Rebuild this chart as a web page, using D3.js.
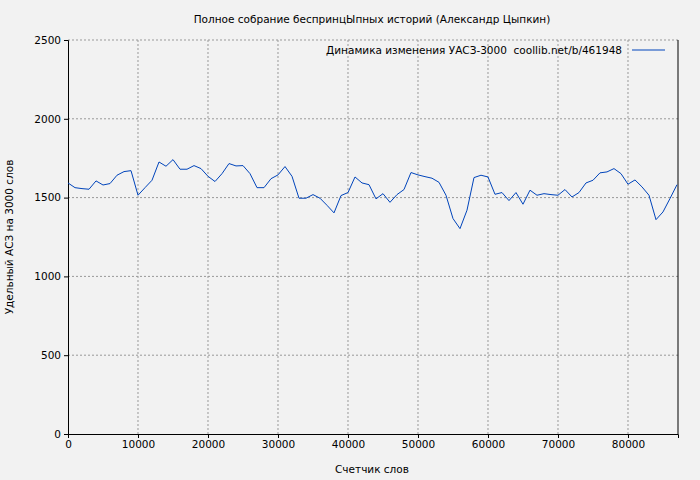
<!DOCTYPE html>
<html><head><meta charset="utf-8">
<script src="https://cdn.jsdelivr.net/npm/d3@7"></script>
<style>
body{margin:0;background:#f2f2f2;}
text{font-family:"DejaVu Sans",sans-serif;font-size:11px;fill:#000;}
</style></head>
<body><svg width="700" height="480"></svg>
<script>
var svg = d3.select('svg');

var title = 'Полное собрание беспринцЫпных историй (Александр Цыпкин)';
var legendLabel = 'Динамика изменения УАСЗ-3000  coollib.net/b/461948';
var xLabel = 'Счетчик слов';
var yLabel = 'Удельный АСЗ на 3000 слов';

var words = d3.range(0, 88000, 1000);
var values = [1593,1563,1557,1553,1606,1580,1589,1642,1665,1671,
  1515,1563,1610,1726,1699,1741,1680,1680,1703,1684,
  1635,1602,1652,1716,1701,1703,1652,1563,1563,1620,
  1644,1697,1635,1496,1496,1519,1496,1451,1403,1513,
  1532,1631,1593,1582,1492,1525,1470,1519,1551,1659,
  1644,1633,1623,1597,1515,1367,1303,1420,1627,1642,
  1631,1521,1532,1481,1532,1458,1547,1515,1525,1519,
  1515,1551,1504,1532,1593,1610,1657,1663,1684,1652,
  1585,1612,1568,1515,1360,1409,1494,1582];
var xTicks = [0,10000,20000,30000,40000,50000,60000,70000,80000];
var yTicks = [0,500,1000,1500,2000,2500];

var x = d3.scaleLinear().domain([0, 87143]).range([68, 678]);
var y = d3.scaleLinear().domain([0, 2500]).range([434, 40]);

// grid
svg.append('g').selectAll('line').data(xTicks.slice(1)).enter().append('line')
  .attr('x1', d => x(d)).attr('x2', d => x(d)).attr('y1', 40).attr('y2', 434)
  .attr('stroke', '#999').attr('stroke-dasharray', '2,2');
svg.append('g').selectAll('line').data(yTicks.slice(1)).enter().append('line')
  .attr('y1', d => y(d)).attr('y2', d => y(d)).attr('x1', 68).attr('x2', 678)
  .attr('stroke', '#999').attr('stroke-dasharray', '2,2');

// axes
svg.append('g').attr('transform', 'translate(0,434)')
  .call(d3.axisBottom(x).tickValues(xTicks).tickFormat(d3.format('d')).tickSizeOuter(0).tickSize(4))
  .call(g => g.select('.domain').attr('stroke', '#000'))
  .selectAll('text').style('font-size', '10.5px').style('font-family', 'DejaVu Sans');
svg.append('g').attr('transform', 'translate(68,0)')
  .call(d3.axisLeft(y).tickValues(yTicks).tickFormat(d3.format('d')).tickSizeOuter(0).tickSize(4))
  .call(g => g.select('.domain').attr('stroke', '#000'))
  .selectAll('text').style('font-size', '10.5px').style('font-family', 'DejaVu Sans');
svg.append('line').attr('x1', 678).attr('x2', 678).attr('y1', 40).attr('y2', 434).attr('stroke', '#000');

// line
var line = d3.line().x((d, i) => x(words[i])).y(d => y(d));
svg.append('path').datum(values).attr('d', line)
  .attr('fill', 'none').attr('stroke', '#0044bb').attr('stroke-width', 1);

// texts
svg.append('text').attr('x', 372).attr('y', 23).attr('text-anchor', 'middle').style('font-size', '10.5px').text(title);
svg.append('text').attr('x', 372).attr('y', 473).attr('text-anchor', 'middle').style('font-size', '10.5px').text(xLabel);
svg.append('text').attr('transform', 'translate(13,237) rotate(-90)').attr('text-anchor', 'middle').style('font-size', '10.5px').text(yLabel);
svg.append('text').attr('x', 622).attr('y', 54).attr('text-anchor', 'end').style('font-size', '10.5px')
  .attr('xml:space', 'preserve').style('white-space', 'pre').text(legendLabel);
svg.append('line').attr('x1', 632).attr('x2', 665).attr('y1', 50).attr('y2', 50).attr('stroke', '#0044bb');
</script></body></html>
